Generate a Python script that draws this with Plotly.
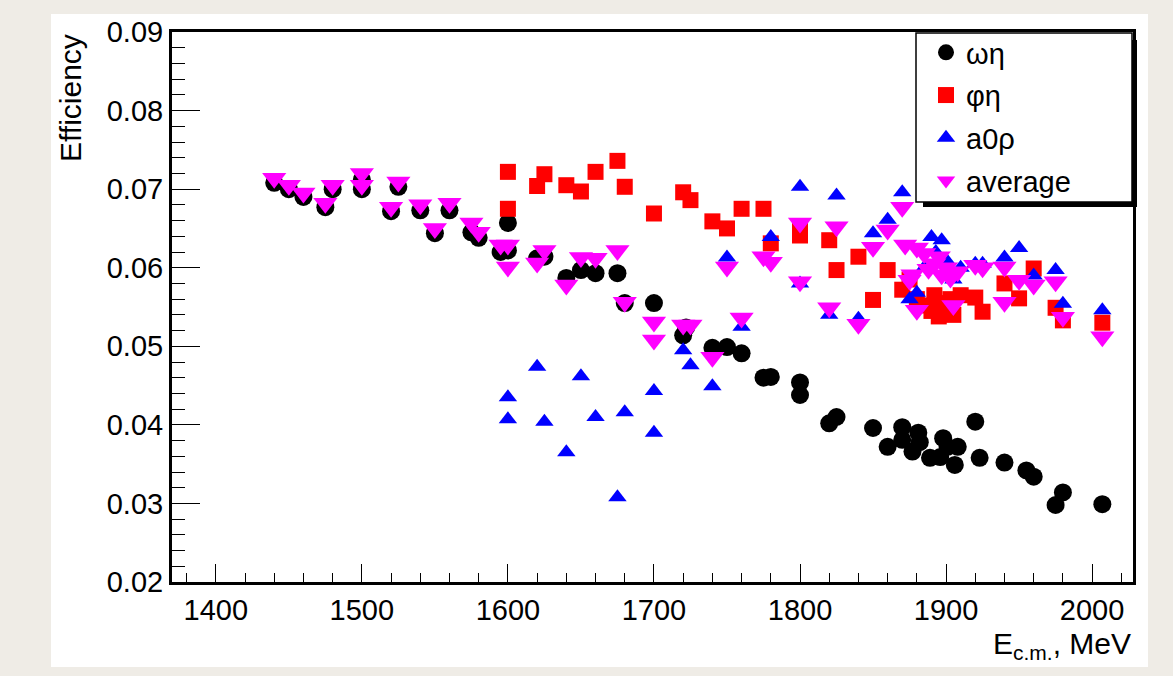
import plotly.graph_objects as go

# ---- data ----
omega_eta_E = [1440, 1450, 1460, 1475, 1480, 1500, 1500, 1520, 1525, 1540, 1550, 1560, 1575, 1580,
               1595, 1600, 1600, 1620, 1625, 1640, 1650, 1660, 1675, 1680, 1700, 1720, 1722, 1740,
               1750, 1760, 1775, 1780, 1800, 1800, 1820, 1825, 1850, 1860, 1870, 1870, 1877, 1881,
               1882, 1889, 1896, 1898, 1901, 1906, 1908, 1920, 1923, 1940, 1955, 1960, 1975, 1980, 2007]
omega_eta_eff = [0.0708, 0.0700, 0.0690, 0.0677, 0.0700, 0.0712, 0.0700, 0.0672, 0.0703, 0.0673, 0.0644,
                 0.0673, 0.0645, 0.0638, 0.0620, 0.0657, 0.0622, 0.0612, 0.0614, 0.0587, 0.0597, 0.0593,
                 0.0593, 0.0555, 0.0555, 0.0514, 0.0524, 0.0498, 0.0499, 0.0491, 0.0460, 0.0461, 0.0454,
                 0.0438, 0.0402, 0.0410, 0.0396, 0.0372, 0.0397, 0.0381, 0.0366, 0.0390, 0.0378, 0.0358,
                 0.0359, 0.0383, 0.0372, 0.0349, 0.0372, 0.0404, 0.0358, 0.0352, 0.0342, 0.0334, 0.0298,
                 0.0314, 0.0299]

phi_eta_E = [1600, 1600, 1620, 1625, 1640, 1650, 1660, 1675, 1680, 1700, 1720, 1725, 1740, 1750, 1760,
             1775, 1780, 1800, 1800, 1820, 1825, 1840, 1850, 1860, 1870, 1875, 1880, 1885, 1890, 1892,
             1895, 1898, 1900, 1903, 1905, 1910, 1920, 1925, 1940, 1950, 1960, 1975, 1980, 2007]
phi_eta_eff = [0.0722, 0.0675, 0.0704, 0.0719, 0.0705, 0.0697, 0.0722, 0.0736, 0.0703, 0.0669, 0.0696,
               0.0686, 0.0659, 0.0650, 0.0675, 0.0675, 0.0631, 0.0649, 0.0641, 0.0635, 0.0597, 0.0614,
               0.0559, 0.0597, 0.0572, 0.0585, 0.0560, 0.0552, 0.0545, 0.0565, 0.0538, 0.0555, 0.0548,
               0.0560, 0.0540, 0.0565, 0.0562, 0.0544, 0.0580, 0.0561, 0.0599, 0.0549, 0.0533, 0.0530]

a0_rho_E = [1600, 1600, 1620, 1625, 1640, 1650, 1660, 1675, 1680, 1700, 1700, 1720, 1725, 1740, 1750,
            1760, 1780, 1800, 1800, 1820, 1825, 1840, 1850, 1860, 1870, 1875, 1880, 1885, 1890, 1893,
            1897, 1900, 1905, 1910, 1920, 1925, 1940, 1950, 1960, 1975, 1980, 2007]
a0_rho_eff = [0.0435, 0.0407, 0.0474, 0.0404, 0.0365, 0.0462, 0.0410, 0.0308, 0.0416, 0.0443, 0.0390,
              0.0495, 0.0476, 0.0449, 0.0613, 0.0525, 0.0639, 0.0703, 0.0580, 0.0540, 0.0692, 0.0535,
              0.0644, 0.0661, 0.0696, 0.0560, 0.0568, 0.0600, 0.0639, 0.0620, 0.0635, 0.0610, 0.0585,
              0.0600, 0.0605, 0.0605, 0.0613, 0.0625, 0.0590, 0.0597, 0.0554, 0.0546]

average_E = [1440, 1450, 1460, 1475, 1480, 1500, 1500, 1520, 1525, 1540, 1550, 1560, 1575, 1580, 1595,
             1600, 1600, 1620, 1625, 1640, 1650, 1660, 1675, 1680, 1700, 1700, 1720, 1725, 1740, 1750,
             1760, 1775, 1780, 1800, 1800, 1820, 1825, 1840, 1850, 1860, 1870, 1872, 1875, 1877, 1880,
             1880, 1885, 1888, 1892, 1895, 1897, 1900, 1903, 1905, 1908, 1920, 1925, 1940, 1940, 1950,
             1960, 1975, 1980, 2007]
average_eff = [0.0714, 0.0705, 0.0695, 0.0682, 0.0705, 0.0720, 0.0705, 0.0677, 0.0709, 0.0680, 0.0650,
               0.0682, 0.0657, 0.0645, 0.0629, 0.0629, 0.0601, 0.0606, 0.0622, 0.0578, 0.0613, 0.0612,
               0.0622, 0.0556, 0.0531, 0.0508, 0.0527, 0.0527, 0.0486, 0.0601, 0.0536, 0.0614, 0.0607,
               0.0657, 0.0582, 0.0549, 0.0652, 0.0528, 0.0626, 0.0648, 0.0677, 0.0629, 0.0584, 0.0591,
               0.0625, 0.0546, 0.0618, 0.0598, 0.0605, 0.0614, 0.0591, 0.0600, 0.0587, 0.0552, 0.0595,
               0.0603, 0.0600, 0.0601, 0.0556, 0.0584, 0.0578, 0.0582, 0.0537, 0.0512]

series_names = ["ωη", "φη", "a0ρ", "average"]

FONT = "Liberation Sans, Arial, Helvetica, sans-serif"

fig = go.Figure()
fig.add_trace(go.Scatter(x=omega_eta_E, y=omega_eta_eff, mode="markers", name=series_names[0],
                         legendgroup="g1",
                         marker=dict(symbol="circle", size=18, color="#000000")))
fig.add_trace(go.Scatter(x=phi_eta_E, y=phi_eta_eff, mode="markers", name=series_names[1],
                         legendgroup="g2",
                         marker=dict(symbol="square", size=16, color="#ff0000")))
fig.add_trace(go.Scatter(x=a0_rho_E, y=a0_rho_eff, mode="markers", name=series_names[2],
                         legendgroup="g3",
                         marker=dict(symbol="triangle-up", size=16, color="#0000ff")))
fig.add_trace(go.Scatter(x=average_E, y=average_eff, mode="markers", name=series_names[3],
                         legendgroup="g4",
                         marker=dict(symbol="triangle-down", size=21, color="#ff00ff")))

W, H = 1173, 676
L, R, T, B = 172, 1133, 32, 582
pw, ph = R - L, B - T


def px(xp):
    return (xp - L) / pw


def py(yp):
    return (B - yp) / ph


shapes = [
    # white canvas
    dict(type="rect", xref="paper", yref="paper", x0=px(51), x1=px(1148), y0=py(667), y1=py(14),
         fillcolor="white", line=dict(width=0), layer="below"),
    # legend shadow
    dict(type="rect", xref="paper", yref="paper", x0=px(923), x1=px(1137), y0=py(207), y1=py(40),
         fillcolor="black", line=dict(width=0), layer="above"),
    # legend box
    dict(type="rect", xref="paper", yref="paper", x0=px(916), x1=px(1132), y0=py(202), y1=py(33),
         fillcolor="white", line=dict(width=1.5, color="black"), layer="above"),
]

annotations = [
    dict(text="Efficiency", xref="paper", yref="paper", x=px(70), y=1.0, xanchor="center",
         yanchor="top", textangle=-90, showarrow=False, font=dict(family=FONT, size=30, color="black")),
    dict(text="E<sub>c.m.</sub>, MeV", xref="paper", yref="paper", x=1.0, y=py(645), xanchor="right",
         yanchor="middle", showarrow=False, font=dict(family=FONT, size=30, color="black")),
]

fig.update_layout(
    width=W, height=H,
    margin=dict(l=L, r=W - R, t=T, b=H - B, pad=0),
    paper_bgcolor="#efece6",
    plot_bgcolor="white",
    font=dict(family=FONT, color="black"),
    shapes=shapes,
    annotations=annotations,
    showlegend=True,
    legend=dict(x=px(926), y=py(27), xanchor="left", yanchor="top", bgcolor="rgba(0,0,0,0)",
                borderwidth=0, font=dict(family=FONT, size=29, color="black"),
                itemsizing="trace", traceorder="grouped", tracegroupgap=2),
)

fig.update_xaxes(range=[1370, 2028], dtick=100, tick0=1400, ticks="inside", ticklen=18, tickwidth=1,
                 tickcolor="black", showline=True, linewidth=3, linecolor="black", mirror=True,
                 showgrid=False, zeroline=False, tickfont=dict(family=FONT, size=29, color="black"),
                 minor=dict(dtick=20, tick0=1400, ticks="inside", ticklen=9, tickwidth=1, tickcolor="black"))
fig.update_yaxes(range=[0.02, 0.09], dtick=0.01, tick0=0.02, ticks="inside", ticklen=28, tickwidth=1,
                 tickcolor="black", showline=True, linewidth=3, linecolor="black", mirror=True,
                 showgrid=False, zeroline=False, tickformat=".2f",
                 tickfont=dict(family=FONT, size=29, color="black"),
                 minor=dict(dtick=0.002, tick0=0.02, ticks="inside", ticklen=13, tickwidth=1, tickcolor="black"))

fig.write_html("out.html")
